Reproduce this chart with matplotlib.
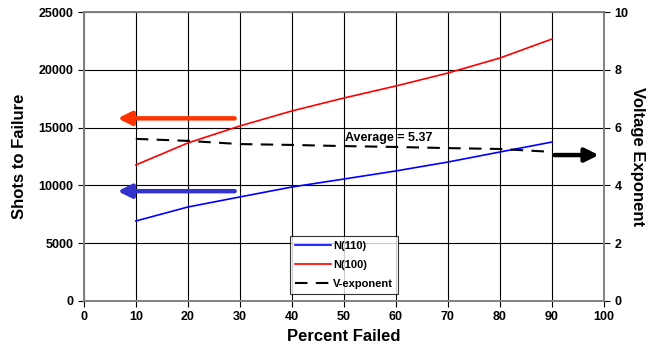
import matplotlib.pyplot as plt
import numpy as np

plt.rcParams["font.family"] = ["Liberation Sans", "DejaVu Sans"]
plt.rcParams["font.weight"] = "bold"

# Percent failed and measured values
pct = [10, 20, 30, 40, 50, 60, 70, 80, 90]
n110 = [6920, 8130, 9000, 9860, 10550, 11250, 12020, 12890, 13750]
n100 = [11770, 13670, 15140, 16440, 17560, 18600, 19720, 21020, 22660]
v_exp = [5.61, 5.54, 5.43, 5.40, 5.36, 5.33, 5.29, 5.26, 5.16]
avg_label = "Average = 5.37"

fig = plt.figure(figsize=(6.55, 3.51), dpi=100)
ax = fig.add_axes([0.128, 0.1425, 0.794, 0.8233])
ax2 = ax.twinx()

l1, = ax.plot(pct, n110, color="#0000FF", lw=1.2, label="N(110)")
l2, = ax.plot(pct, n100, color="#FF0000", lw=1.2, label="N(100)")
l3, = ax2.plot(pct, v_exp, color="black", lw=1.5, dashes=(6, 4), label="V-exponent")

ax.set_xlim(0, 100)
ax.set_ylim(0, 25000)
ax2.set_ylim(0, 10)
ax.set_xticks(np.arange(0, 101, 10))
ax.set_yticks(np.arange(0, 25001, 5000))
ax2.set_yticks(np.arange(0, 11, 2))
ax.grid(True, color="black", lw=0.8)
ax.set_axisbelow(True)

for a in (ax, ax2):
    a.tick_params(labelsize=9, length=4, width=0.8, direction="out")
    for s in a.spines.values():
        s.set_color("#808080")
        s.set_linewidth(1.2)

ax.set_xlabel("Percent Failed", fontsize=12, fontweight="bold")
ax.set_ylabel("Shots to Failure", fontsize=12, fontweight="bold", labelpad=8)
ax2.set_ylabel("Voltage Exponent", fontsize=12, fontweight="bold",
               rotation=270, labelpad=12)

ax2.text(50.3, 5.64, avg_label, fontsize=9, fontweight="bold", ha="left", va="center")

# Arrows pointing to the axis each series belongs to
arrow = dict(arrowstyle="-|>,head_length=0.8,head_width=0.4", lw=3.2,
             shrinkA=0, shrinkB=0)
ax.annotate("", xy=(6.5, 15800), xytext=(29, 15800),
            arrowprops=dict(arrow, color="#FF3300"))
ax.annotate("", xy=(6.5, 9500), xytext=(29, 9500),
            arrowprops=dict(arrow, color="#3333CC"))
ax2.annotate("", xy=(99, 5.05), xytext=(90.5, 5.05),
             arrowprops=dict(arrow, color="black"))

leg = ax2.legend(handles=[l1, l2, l3], loc="lower left",
                 bbox_to_anchor=(0.397, 0.025), fontsize=8, frameon=True,
                 fancybox=False, edgecolor="black", handlelength=3.2,
                 borderaxespad=0, labelspacing=0.8, handletextpad=0.2,
                 borderpad=0.45)
leg.get_frame().set_linewidth(0.8)

fig.savefig("out.png", dpi=100)
